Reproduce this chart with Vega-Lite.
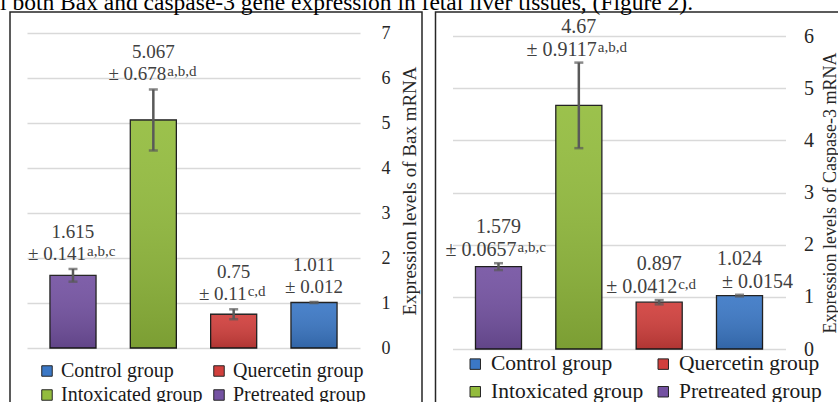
{
  "$schema": "https://vega.github.io/schema/vega-lite/v6.json",
  "background": "white",
  "padding": {"left": 0, "top": -10, "right": 0, "bottom": 0},
  "title": {
    "text": "l both Bax and caspase-3 gene expression in fetal liver tissues, (Figure 2).",
    "anchor": "start", "frame": "group", "font": "Liberation Serif", "fontSize": 23.5,
    "fontWeight": "normal", "color": "#000000", "dx": -10, "offset": -22, "baseline": "alphabetic"
  },
  "datasets": {
    "bax": [
      {"group": "Pretreated group", "mean": 1.615, "sd": 0.141, "upper": 1.756, "sdText": "± 0.141", "sup": "a,b,c"},
      {"group": "Intoxicated group", "mean": 5.067, "sd": 0.678, "upper": 5.745, "sdText": "± 0.678", "sup": "a,b,d"},
      {"group": "Quercetin group", "mean": 0.75, "sd": 0.11, "upper": 0.86, "sdText": "± 0.11", "sup": "c,d"},
      {"group": "Control group", "mean": 1.011, "sd": 0.012, "upper": 1.023, "sdText": "± 0.012", "sup": ""}
    ],
    "casp": [
      {"group": "Pretreated group", "mean": 1.579, "sd": 0.0657, "upper": 1.6447, "sdText": "± 0.0657", "sup": "a,b,c"},
      {"group": "Intoxicated group", "mean": 4.67, "sd": 0.82, "upper": 5.49, "sdText": "± 0.9117", "sup": "a,b,d"},
      {"group": "Quercetin group", "mean": 0.897, "sd": 0.0412, "upper": 0.9382, "sdText": "± 0.0412", "sup": "c,d"},
      {"group": "Control group", "mean": 1.024, "sd": 0.0154, "upper": 1.0394, "sdText": "± 0.0154", "sup": ""}
    ]
  },
  "spacing": 11.5,
  "resolve": {
    "scale": {"x": "independent", "y": "independent", "color": "independent"},
    "legend": {"color": "independent"},
    "axis": {"y": "independent"}
  },
  "hconcat": [
    {
      "width": 412, "height": 392,
      "data": {"name": "bax"},
      "view": {"stroke": "#262626", "strokeWidth": 1.5},
      "encoding": {
        "x": {"field": "group", "type": "nominal", "axis": null,
          "sort": ["Pretreated group", "Intoxicated group", "Quercetin group", "Control group"],
          "scale": {"range": [17, 350], "paddingInner": 0.427, "paddingOuter": 0.286}}
      },
      "layer": [
        {
          "mark": {"type": "bar", "stroke": "#1a1a1a", "strokeWidth": 1.3},
          "encoding": {
            "y": {"field": "mean", "type": "quantitative", "title": "Expression levels of Bax mRNA",
              "scale": {"domain": [0, 7], "range": [336, 21]},
              "axis": {"orient": "left", "offset": -367, "values": [0, 1, 2, 3, 4, 5, 6, 7], "format": "d",
                "title": "Expression levels of Bax mRNA", "titleAngle": 270, "titleX": 32, "titleY": 178.5,
                "titleAlign": "center", "titleBaseline": "middle", "titleFont": "Liberation Serif",
                "titleFontSize": 19, "titleFontWeight": "normal", "titleColor": "#262626",
                "labelFont": "Liberation Serif", "labelFontSize": 18, "labelColor": "#262626",
                "labelAlign": "left", "labelBaseline": "middle", "labelPadding": -4,
                "ticks": false, "tickSize": 0, "domain": false,
                "grid": true, "gridColor": "#d9d9d9", "gridWidth": 1.3}},
            "color": {"field": "group", "type": "nominal",
              "scale": {"domain": ["Control group", "Intoxicated group", "Quercetin group", "Pretreated group"],
                "range": ["#3b78c6", "#93bc3d", "#d13f3c", "#7452a2"]},
              "legend": {"orient": "none", "legendX": 27, "legendY": 349, "columns": 2, "title": null,
                "gridAlign": "all",
                "labelFont": "Liberation Serif", "labelFontSize": 20, "labelColor": "#1a1a1a",
                "symbolType": "square", "symbolSize": 110, "symbolStrokeColor": "#262626",
                "symbolStrokeWidth": 1, "symbolOpacity": 1, "labelOffset": 4,
                "rowPadding": 4, "columnPadding": 6}}
          }
        },
        {
          "mark": {"type": "bar", "fill": {"gradient": "linear", "x1": 0, "y1": 0, "x2": 0, "y2": 1,
            "stops": [{"offset": 0, "color": "rgba(255,255,255,0.08)"}, {"offset": 1, "color": "rgba(0,0,0,0.16)"}]}},
          "encoding": {"y": {"field": "mean", "type": "quantitative", "title": "Expression levels of Bax mRNA"}}
        },
        {
          "mark": {"type": "errorbar", "ticks": true, "size": 9, "thickness": 2.5, "color": "#595959"},
          "encoding": {"y": {"field": "mean", "type": "quantitative", "title": "Expression levels of Bax mRNA"}, "yError": {"field": "sd"}}
        },
        {
          "mark": {"type": "text", "font": "Liberation Serif", "fontSize": 19, "color": "#404040",
            "baseline": "alphabetic", "align": "center", "dy": -31},
          "encoding": {"y": {"field": "upper", "type": "quantitative", "title": "Expression levels of Bax mRNA"}, "text": {"field": "mean", "type": "quantitative"}}
        },
        {
          "transform": [{"filter": "datum.sup != ''"}],
          "mark": {"type": "text", "font": "Liberation Serif", "fontSize": 19, "color": "#404040",
            "baseline": "alphabetic", "align": "right", "dx": 13, "dy": -9},
          "encoding": {"y": {"field": "upper", "type": "quantitative", "title": "Expression levels of Bax mRNA"}, "text": {"field": "sdText", "type": "nominal"}}
        },
        {
          "transform": [{"filter": "datum.sup == ''"}],
          "mark": {"type": "text", "font": "Liberation Serif", "fontSize": 19, "color": "#404040",
            "baseline": "alphabetic", "align": "center", "dy": -9},
          "encoding": {"y": {"field": "upper", "type": "quantitative", "title": "Expression levels of Bax mRNA"}, "text": {"field": "sdText", "type": "nominal"}}
        },
        {
          "transform": [{"filter": "datum.sup != ''"}],
          "mark": {"type": "text", "font": "Liberation Serif", "fontSize": 15, "color": "#404040",
            "baseline": "alphabetic", "align": "left", "dx": 14, "dy": -13},
          "encoding": {"y": {"field": "upper", "type": "quantitative", "title": "Expression levels of Bax mRNA"}, "text": {"field": "sup", "type": "nominal"}}
        }
      ]
    },
    {
      "width": 412, "height": 392,
      "data": {"name": "casp"},
      "view": {"stroke": "#262626", "strokeWidth": 1.5},
      "encoding": {
        "x": {"field": "group", "type": "nominal", "axis": null,
          "sort": ["Pretreated group", "Intoxicated group", "Quercetin group", "Control group"],
          "scale": {"range": [17, 350], "paddingInner": 0.427, "paddingOuter": 0.286}}
      },
      "layer": [
        {
          "mark": {"type": "bar", "stroke": "#1a1a1a", "strokeWidth": 1.3},
          "encoding": {
            "y": {"field": "mean", "type": "quantitative", "title": "Expression levels of Caspase-3 mRNA",
              "scale": {"domain": [0, 6], "range": [337, 24]},
              "axis": {"orient": "left", "offset": -364, "values": [0, 1, 2, 3, 4, 5, 6], "format": "d",
                "title": "Expression levels of Caspase-3 mRNA", "titleAngle": 270, "titleX": 31, "titleY": 180.5,
                "titleAlign": "center", "titleBaseline": "middle", "titleFont": "Liberation Serif",
                "titleFontSize": 18, "titleFontWeight": "normal", "titleColor": "#262626",
                "labelFont": "Liberation Serif", "labelFontSize": 20, "labelColor": "#262626",
                "labelAlign": "left", "labelBaseline": "middle", "labelPadding": -4,
                "ticks": false, "tickSize": 0, "domain": false,
                "grid": true, "gridColor": "#d9d9d9", "gridWidth": 1.3}},
            "color": {"field": "group", "type": "nominal",
              "scale": {"domain": ["Control group", "Intoxicated group", "Quercetin group", "Pretreated group"],
                "range": ["#3b78c6", "#93bc3d", "#d13f3c", "#7452a2"]},
              "legend": {"orient": "none", "legendX": 29, "legendY": 341, "columns": 2, "title": null,
                "gridAlign": "all",
                "labelFont": "Liberation Serif", "labelFontSize": 21.5, "labelColor": "#1a1a1a",
                "symbolType": "square", "symbolSize": 110, "symbolStrokeColor": "#262626",
                "symbolStrokeWidth": 1, "symbolOpacity": 1, "labelOffset": 5,
                "rowPadding": 5, "columnPadding": 9}}
          }
        },
        {
          "mark": {"type": "bar", "fill": {"gradient": "linear", "x1": 0, "y1": 0, "x2": 0, "y2": 1,
            "stops": [{"offset": 0, "color": "rgba(255,255,255,0.08)"}, {"offset": 1, "color": "rgba(0,0,0,0.16)"}]}},
          "encoding": {"y": {"field": "mean", "type": "quantitative", "title": "Expression levels of Caspase-3 mRNA"}}
        },
        {
          "mark": {"type": "errorbar", "ticks": true, "size": 9, "thickness": 2.5, "color": "#595959"},
          "encoding": {"y": {"field": "mean", "type": "quantitative", "title": "Expression levels of Caspase-3 mRNA"}, "yError": {"field": "sd"}}
        },
        {
          "mark": {"type": "text", "font": "Liberation Serif", "fontSize": 20, "color": "#404040",
            "baseline": "alphabetic", "align": "center", "dy": -30},
          "encoding": {"y": {"field": "upper", "type": "quantitative", "title": "Expression levels of Caspase-3 mRNA"}, "text": {"field": "mean", "type": "quantitative"}}
        },
        {
          "transform": [{"filter": "datum.sup != ''"}],
          "mark": {"type": "text", "font": "Liberation Serif", "fontSize": 20, "color": "#404040",
            "baseline": "alphabetic", "align": "right", "dx": 18, "dy": -7},
          "encoding": {"y": {"field": "upper", "type": "quantitative", "title": "Expression levels of Caspase-3 mRNA"}, "text": {"field": "sdText", "type": "nominal"}}
        },
        {
          "transform": [{"filter": "datum.sup == ''"}],
          "mark": {"type": "text", "font": "Liberation Serif", "fontSize": 20, "color": "#404040",
            "baseline": "alphabetic", "align": "center", "dx": 18, "dy": -7},
          "encoding": {"y": {"field": "upper", "type": "quantitative", "title": "Expression levels of Caspase-3 mRNA"}, "text": {"field": "sdText", "type": "nominal"}}
        },
        {
          "transform": [{"filter": "datum.sup != ''"}],
          "mark": {"type": "text", "font": "Liberation Serif", "fontSize": 15, "color": "#404040",
            "baseline": "alphabetic", "align": "left", "dx": 19, "dy": -11},
          "encoding": {"y": {"field": "upper", "type": "quantitative", "title": "Expression levels of Caspase-3 mRNA"}, "text": {"field": "sup", "type": "nominal"}}
        }
      ]
    }
  ],
  "config": {
    "font": "Liberation Serif",
    "view": {"stroke": "#262626", "strokeWidth": 1.5}
  }
}
